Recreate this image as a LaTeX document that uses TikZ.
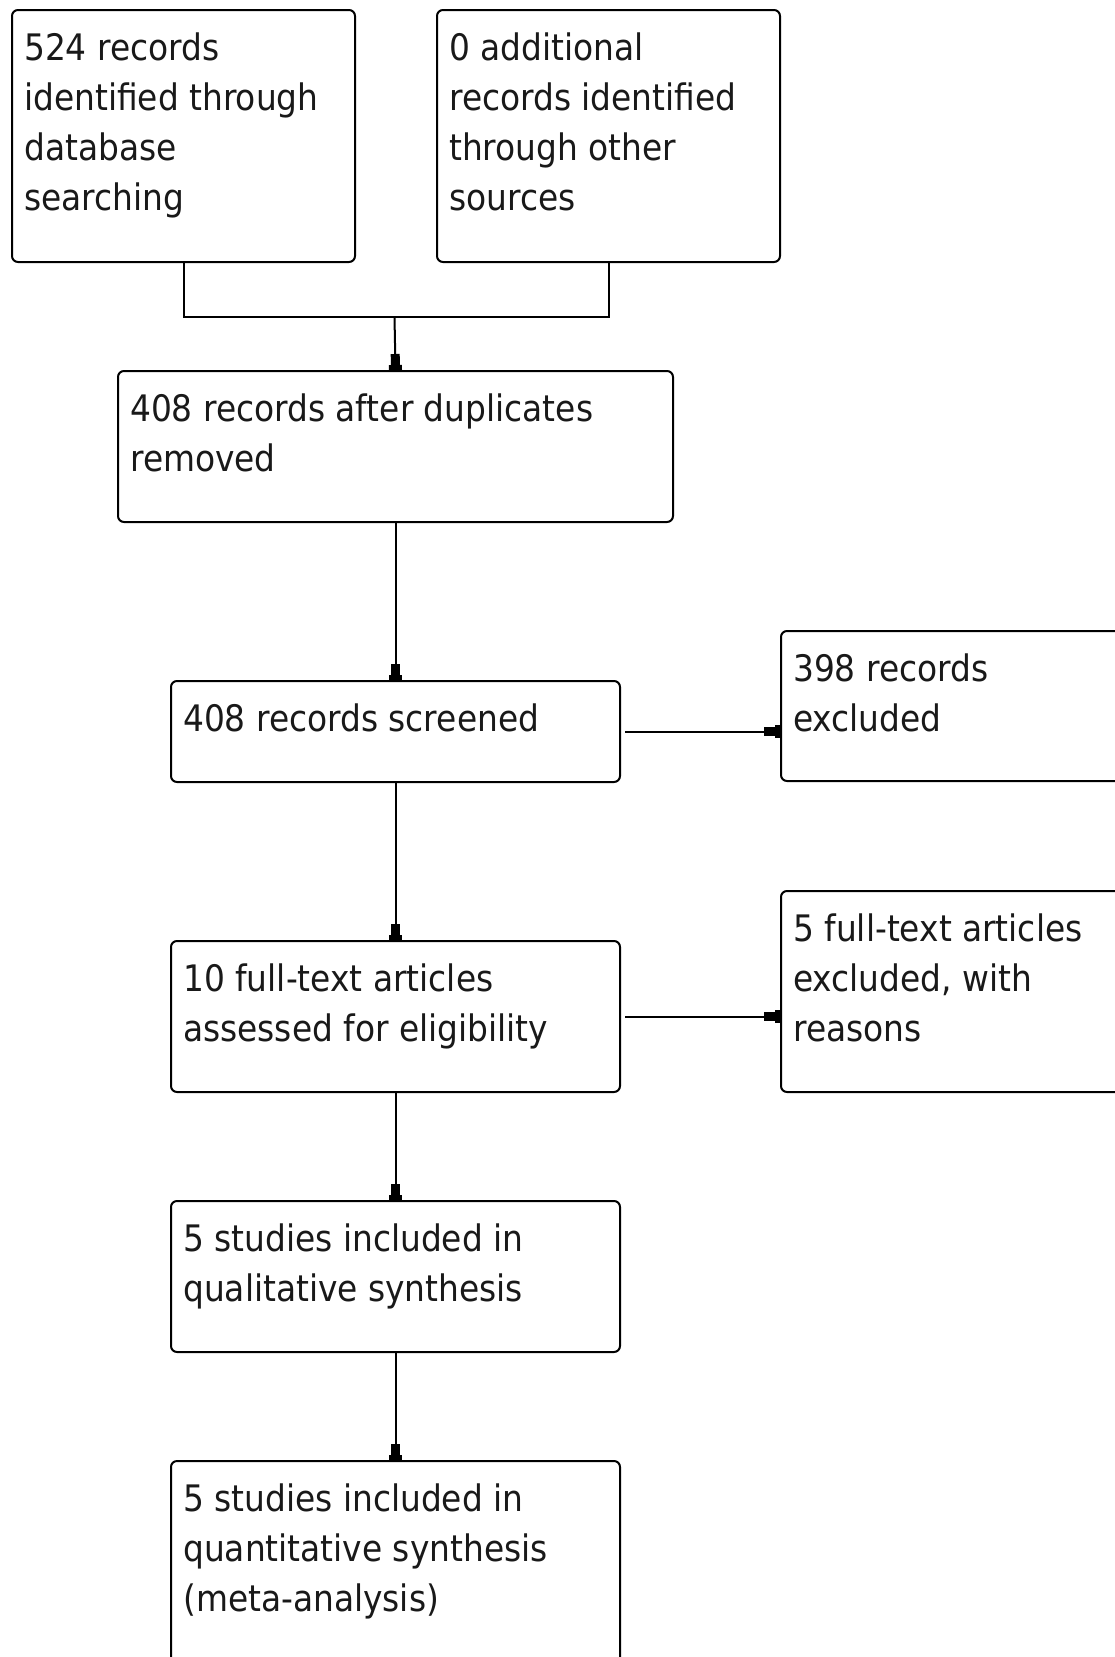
\documentclass[tikz,border=0pt]{standalone}
\usepackage{fontspec}
\setmainfont{DejaVu Sans}[FakeStretch=0.9]
\usetikzlibrary{arrows.meta}
\tikzset{
  box/.style={draw=black, line width=2pt, rounded corners=6pt, inner sep=0pt, anchor=north west},
  txt/.style={anchor=north west, inner sep=0pt, align=left, font=\fontsize{36.5}{50}\selectfont, text=black!90},
  conn/.style={draw=black, line width=2pt},
  arr/.style={conn, -{Rectangle[length=11pt,width=9pt]Rectangle[length=5pt,width=13pt]}}
}
\newcommand{\fs}{\rule{0pt}{37pt}}
\begin{document}
\begin{tikzpicture}[x=1pt,y=-1pt]
\useasboundingbox (0,0) rectangle (1115,1657);
\clip (0,0) rectangle (1115,1657);
\fill[white] (0,0) rectangle (1115,1657);
% boxes
\node[box, minimum width=343pt, minimum height=252pt] (b1) at (11,9) {};
\node[box, minimum width=343pt, minimum height=252pt] (b2) at (436,9) {};
\node[box, minimum width=555pt, minimum height=151pt] (b3) at (117,370) {};
\node[box, minimum width=449pt, minimum height=101pt] (b4) at (170,680) {};
\node[box, minimum width=360pt, minimum height=150pt] (r1) at (780,630) {};
\node[box, minimum width=449pt, minimum height=151pt] (b5) at (170,940) {};
\node[box, minimum width=360pt, minimum height=201pt] (r2) at (780,890) {};
\node[box, minimum width=449pt, minimum height=151pt] (b6) at (170,1200) {};
\node[box, minimum width=449pt, minimum height=230pt] (b7) at (170,1460) {};
% texts
\node[txt] (t1) at (24,23) {\fs 524 records\\identified through\\database\\searching};
\node[txt] (t2) at (449,23) {\fs 0 additional\\records identified\\through other\\sources};
\node[txt] (t3) at (130,384) {\fs 408 records after duplicates\\removed};
\node[txt] (t4) at (183,694) {\fs 408 records screened};
\node[txt] (t5) at (793,644) {\fs 398 records\\excluded};
\node[txt] (t6) at (183,954) {\fs 10 full-text articles\\assessed for eligibility};
\node[txt] (t7) at (793,904) {\fs 5 full-text articles\\excluded, with\\reasons};
\node[txt] (t8) at (183,1214) {\fs 5 studies included in\\qualitative synthesis};
\node[txt] (t9) at (183,1474) {\fs 5 studies included in\\quantitative synthesis\\(meta-analysis)};
% connectors
\coordinate (j) at (394.5,317);
\draw[conn] (b1.south) |- (j) -| (b2.south);
\draw[arr] (j) -- (b3.north);
\draw[arr] (b3.south) -- (b4.north);
\draw[arr] (b4.south) -- (b5.north);
\draw[arr] (b5.south) -- (b6.north);
\draw[arr] (b6.south) -- (b7.north);
\draw[arr] ([xshift=4pt]b4.east) -- (r1.west |- b4.east);
\draw[arr] ([xshift=4pt]b5.east) -- (r2.west |- b5.east);
\end{tikzpicture}
\end{document}
